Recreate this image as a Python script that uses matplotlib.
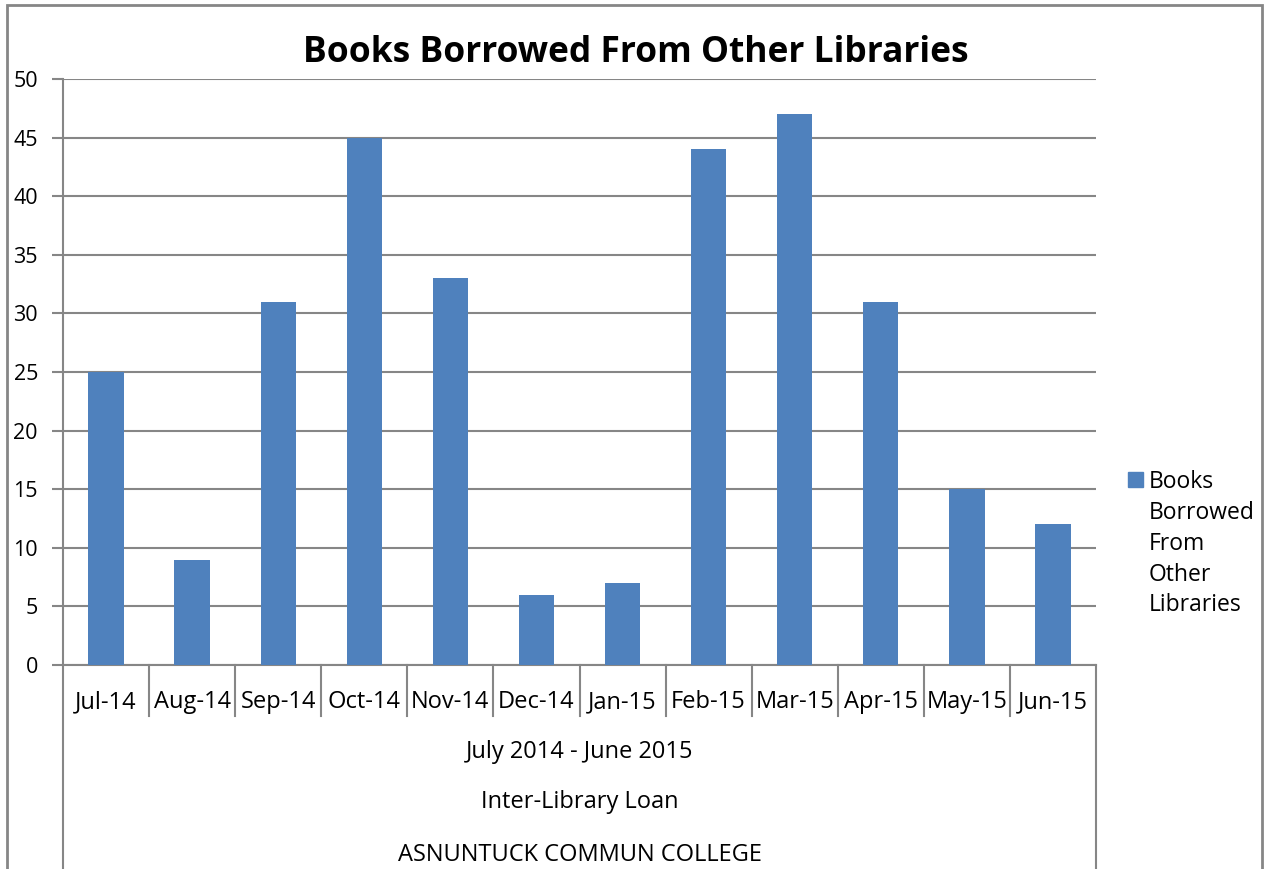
import matplotlib.pyplot as plt
import matplotlib.transforms as mtransforms
from matplotlib.patches import Rectangle

months = ['Jul-14', 'Aug-14', 'Sep-14', 'Oct-14', 'Nov-14', 'Dec-14',
          'Jan-15', 'Feb-15', 'Mar-15', 'Apr-15', 'May-15', 'Jun-15']
borrowed = [25, 9, 31, 45, 33, 6, 7, 44, 47, 31, 15, 12]
outer_labels = ['July 2014 - June 2015', 'Inter-Library Loan', 'ASNUNTUCK COMMUN COLLEGE']
series_name = 'Books Borrowed From Other Libraries'

plt.rcParams['font.family'] = ['Open Sans', 'DejaVu Sans']
bar_color = '#4F81BD'
line_color = '#868686'

W, H = 1266, 869
fig = plt.figure(figsize=(W / 100, H / 100), dpi=100)
left, right, top, bottom = 63, 1096, 79, 665
ax = fig.add_axes([left / W, 1 - bottom / H, (right - left) / W, (bottom - top) / H])

x = range(len(months))
ax.bar(x, borrowed, width=0.41, color=bar_color, zorder=3)
ax.set_xlim(-0.5, len(months) - 0.5)
ax.set_ylim(0, 50)
ax.set_yticks(range(0, 51, 5))
ax.yaxis.grid(True, color=line_color, linewidth=1.5, zorder=0)
ax.tick_params(axis='y', length=8, width=1.5, color=line_color, labelsize=15.5, pad=10)
ax.set_xticks(list(x))
ax.set_xticklabels(months)
ax.tick_params(axis='x', length=0, labelsize=17, pad=18)

for side in ['top', 'right']:
    ax.spines[side].set_visible(False)
for side in ['left', 'bottom']:
    ax.spines[side].set_color(line_color)
    ax.spines[side].set_linewidth(1.5)

# category separators below the axis
trans = mtransforms.blended_transform_factory(ax.transData, ax.transAxes)
sep_depth = -(716 - bottom) / (bottom - top)
full_depth = -(H - bottom) / (bottom - top)
for i in range(1, len(months)):
    ax.plot([i - 0.5, i - 0.5], [0, sep_depth], transform=trans, color=line_color,
            linewidth=1.5, clip_on=False)
for xe in [-0.5, len(months) - 0.5]:
    ax.plot([xe, xe], [0, full_depth], transform=trans, color=line_color,
            linewidth=1.5, clip_on=False)

# outer category levels
cx = (left + right) / 2 / W
for label, ypix in zip(outer_labels, [752, 802, 855]):
    fig.text(cx, 1 - ypix / H, label, ha='center', va='center', fontsize=17)

fig.text(0.502, 1 - 53 / H, series_name, ha='center',
         va='center', fontsize=25.5, fontweight='bold')

# legend entry
fig.patches.append(Rectangle((1128 / W, 1 - 487 / H), 15 / W, 15 / H,
                             transform=fig.transFigure, color=bar_color))
fig.text(1149 / W, 1 - 470 / H, series_name.replace(' ', '\n'), ha='left', va='top',
         fontsize=16.5, linespacing=1.38)

# chart area border
fig.patches.append(Rectangle((7 / W, -0.1), (1262 - 7) / W, 1.1 - 5 / H,
                             transform=fig.transFigure, fill=False,
                             edgecolor=line_color, linewidth=2))

fig.savefig('out.png', dpi=100)
